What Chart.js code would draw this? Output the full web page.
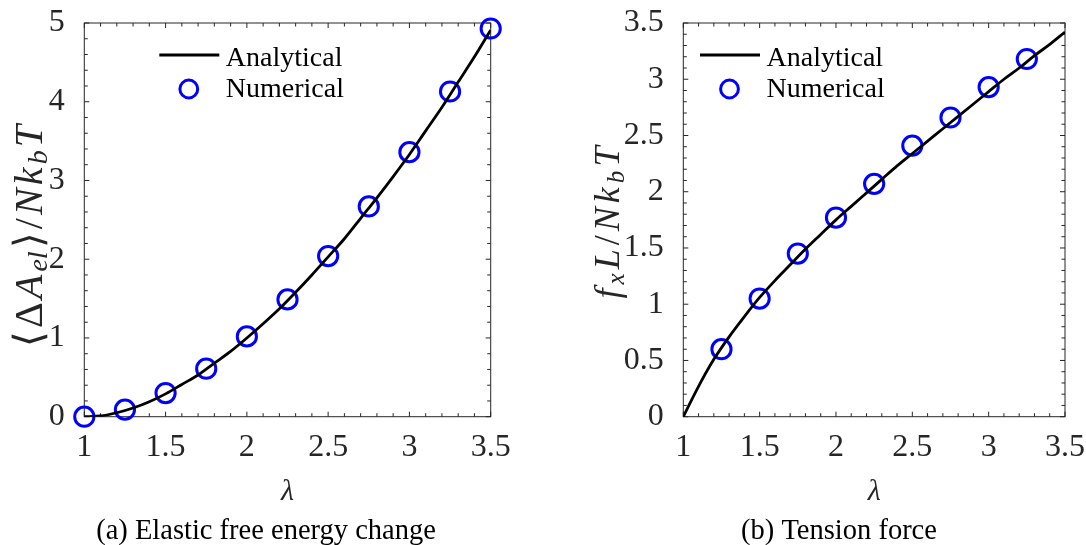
<!DOCTYPE html>
<html>
<head>
<meta charset="utf-8">
<script src="https://cdn.jsdelivr.net/npm/chart.js@4.4.0/dist/chart.umd.min.js"></script>
<style>
  html, body { margin: 0; padding: 0; background: #fff; }
  #wrap { position: relative; width: 1086px; height: 545px; overflow: hidden; }
  .panel { position: absolute; top: 0; height: 545px; }
  #left { left: 0; width: 532px; }
  #right { left: 592px; width: 494px; }
</style>
</head>
<body>
<div id="wrap">
  <div class="panel" id="left"><canvas id="energy" width="532" height="545"></canvas></div>
  <div class="panel" id="right"><canvas id="force" width="494" height="545"></canvas></div>
</div>
<script>
// analytical curves at steps of 0.1 in lambda
const lambdaCurve = [1.0, 1.1, 1.2, 1.3, 1.4, 1.5, 1.6, 1.7, 1.8, 1.9, 2.0, 2.1, 2.2,
  2.3, 2.4, 2.5, 2.6, 2.7, 2.8, 2.9, 3.0, 3.1, 3.2, 3.3, 3.4, 3.5];
const energyCurve = [0, 0.01, 0.05, 0.11, 0.19, 0.29, 0.41, 0.53, 0.68, 0.83, 1.0, 1.18, 1.37,
  1.58, 1.80, 2.03, 2.26, 2.52, 2.78, 3.05, 3.33, 3.63, 3.93, 4.25, 4.57, 4.91];
const forceCurve = [0, 0.27, 0.51, 0.71, 0.89, 1.06, 1.21, 1.35, 1.49, 1.62, 1.75, 1.87, 1.99,
  2.11, 2.23, 2.34, 2.45, 2.56, 2.67, 2.78, 2.89, 3.00, 3.10, 3.21, 3.31, 3.42];

// numerical results (circles)
const lambdaEnergy = [1, 1.25, 1.5, 1.75, 2, 2.25, 2.5, 2.75, 3, 3.25, 3.5];
const energyPts = [0, 0.09, 0.30, 0.61, 1.02, 1.49, 2.04, 2.67, 3.36, 4.13, 4.93];
const lambdaForce = [1.25, 1.5, 1.75, 2, 2.25, 2.5, 2.75, 3, 3.25];
const forcePts = [0.60, 1.05, 1.45, 1.77, 2.07, 2.41, 2.66, 2.93, 3.18];

// tick labels
const lambdaTicks = [1, 1.5, 2, 2.5, 3, 3.5];
const energyTicks = [0, 1, 2, 3, 4, 5];
const forceTicks = [0, 0.5, 1, 1.5, 2, 2.5, 3, 3.5];

const AXIS = "#262626";
const SERIF = "'Liberation Serif', 'Times New Roman', serif";

// matlab style box with inward ticks on all four sides
const framePlugin = {
  id: "frame",
  beforeDatasetsDraw(chart, args, opts) {
    const { ctx, chartArea: a, scales: { x, y } } = chart;
    const marks = (scale, step, majors) => {
      const out = [];
      const n = Math.round((scale.max - scale.min) / step);
      for (let i = 0; i <= n; i++) {
        const v = scale.min + i * step;
        const major = majors.some(m => Math.abs(m - v) < 1e-6);
        out.push([scale.getPixelForValue(v), major ? 5 : 3.5]);
      }
      return out;
    };
    ctx.save();
    ctx.strokeStyle = AXIS;
    ctx.lineWidth = 1;
    ctx.beginPath();
    for (const [px, len] of marks(x, opts.xMinor, opts.xMajor)) {
      ctx.moveTo(px, a.bottom); ctx.lineTo(px, a.bottom - len);
      ctx.moveTo(px, a.top); ctx.lineTo(px, a.top + len);
    }
    for (const [py, len] of marks(y, opts.yMinor, opts.yMajor)) {
      ctx.moveTo(a.left, py); ctx.lineTo(a.left + len, py);
      ctx.moveTo(a.right, py); ctx.lineTo(a.right - len, py);
    }
    ctx.stroke();
    ctx.strokeRect(a.left, a.top, a.right - a.left, a.bottom - a.top);
    ctx.restore();
  }
};

// legend drawn inside the axes
const legendPlugin = {
  id: "boxLegend",
  afterDatasetsDraw(chart, args, opts) {
    const { ctx, chartArea: a } = chart;
    const [line, dots] = chart.data.datasets;
    const x0 = a.left + opts.dx;
    ctx.save();
    ctx.font = `28px ${SERIF}`;
    ctx.fillStyle = "#000";
    ctx.textBaseline = "alphabetic";
    ctx.strokeStyle = line.borderColor;
    ctx.lineWidth = line.borderWidth;
    ctx.beginPath();
    ctx.moveTo(x0, a.top + 32);
    ctx.lineTo(x0 + 60, a.top + 32);
    ctx.stroke();
    ctx.fillText(line.label, x0 + 66.5, a.top + 43);
    ctx.strokeStyle = dots.borderColor;
    ctx.lineWidth = dots.pointBorderWidth;
    ctx.beginPath();
    ctx.arc(x0 + 29.5, a.top + 66, 8.9, 0, Math.PI * 2);
    ctx.stroke();
    ctx.fillText(dots.label, x0 + 66.5, a.top + 73.5);
    ctx.restore();
  }
};

// y title with subscripts, and the subfigure caption
const labelPlugin = {
  id: "labels",
  afterDraw(chart, args, opts) {
    const { ctx } = chart;
    const size = opts.ySize;
    const fontOf = p => `${p.it ? "italic " : ""}${p.sub ? size * 0.7 : size}px ${SERIF}`;
    const natural = opts.yParts.reduce((w, p) => {
      ctx.font = fontOf(p);
      return w + ctx.measureText(p.t).width;
    }, 0);
    const gap = Math.min(4, Math.max(0, (opts.yLength - natural) / (opts.yParts.length - 1)));
    const total = natural + gap * (opts.yParts.length - 1);
    ctx.save();
    ctx.fillStyle = AXIS;
    ctx.textBaseline = "alphabetic";
    ctx.translate(opts.yX, opts.yY);
    ctx.rotate(-Math.PI / 2);
    let cx = -total / 2;
    for (const p of opts.yParts) {
      ctx.font = fontOf(p);
      ctx.fillText(p.t, cx, p.sub ? size * 0.13 : 0);
      cx += ctx.measureText(p.t).width + gap;
    }
    ctx.restore();

    ctx.save();
    ctx.fillStyle = "#000";
    ctx.font = `28.5px ${SERIF}`;
    ctx.textAlign = "center";
    ctx.textBaseline = "alphabetic";
    ctx.fillText(opts.caption, chart.width / 2, 539);
    ctx.restore();
  }
};

// keep the axes box where it is in the figure, no label overflow padding
const noOverflow = s => {
  s.paddingTop = 0;
  s.paddingBottom = 0;
  s.paddingLeft = 0;
  s.paddingRight = 0;
};

function makeChart(id, cfg) {
  const tickFont = { family: SERIF, size: 32, lineHeight: 1.2 };
  return new Chart(document.getElementById(id), {
    type: "line",
    data: {
      datasets: [
        {
          label: "Analytical",
          data: lambdaCurve.map((x, i) => ({ x, y: cfg.curve[i] })),
          borderColor: "#000",
          borderWidth: 2.8,
          pointRadius: 0,
          cubicInterpolationMode: "monotone",
          fill: false,
          order: 0,
        },
        {
          label: "Numerical",
          data: cfg.px.map((x, i) => ({ x, y: cfg.py[i] })),
          showLine: false,
          borderColor: "#0000ff",
          backgroundColor: "rgba(0,0,0,0)",
          pointBorderColor: "#0000ff",
          pointBackgroundColor: "rgba(0,0,0,0)",
          pointRadius: 9.6,
          pointBorderWidth: 3,
          clip: false,
          order: 1,
        },
      ],
    },
    options: {
      responsive: false,
      animation: false,
      events: [],
      layout: {
        autoPadding: false,
        padding: { left: 0, right: cfg.padRight, top: 23, bottom: 0 },
      },
      scales: {
        x: {
          type: "linear",
          min: 1,
          max: 3.5,
          grid: { display: false },
          border: { display: false },
          afterBuildTicks: s => { s.ticks = lambdaTicks.map(value => ({ value })); },
          afterFit: s => { s.height = 128.3; noOverflow(s); },
          ticks: { color: AXIS, font: tickFont, padding: 4, maxRotation: 0, autoSkip: false, callback: v => String(v) },
          title: {
            display: true,
            text: "λ",
            color: AXIS,
            font: { family: SERIF, size: 30, style: "italic", lineHeight: 1.2 },
            padding: { top: 0, bottom: 35 },
          },
        },
        y: {
          type: "linear",
          min: 0,
          max: cfg.yMax,
          grid: { display: false },
          border: { display: false },
          afterBuildTicks: s => { s.ticks = cfg.yTicks.map(value => ({ value })); },
          afterFit: s => { s.width = cfg.yWidth; noOverflow(s); },
          ticks: { color: AXIS, font: tickFont, padding: 11.5, autoSkip: false, callback: v => String(v) },
        },
      },
      plugins: {
        legend: { display: false },
        tooltip: { enabled: false },
        frame: { xMinor: 0.1, xMajor: lambdaTicks, yMinor: cfg.yMinor, yMajor: cfg.yTicks },
        boxLegend: { dx: cfg.legendDx },
        labels: cfg.labels,
      },
    },
    plugins: [framePlugin, legendPlugin, labelPlugin],
  });
}

makeChart("energy", {
  curve: energyCurve,
  px: lambdaEnergy,
  py: energyPts,
  yMax: 5,
  yTicks: energyTicks,
  yMinor: 0.2,
  yWidth: 84.3,
  padRight: 41.3,
  legendDx: 75,
  labels: {
    caption: "(a) Elastic free energy change",
    yX: 42,
    yY: 236,
    ySize: 40,
    yLength: 222,
    yParts: [
      { t: "⟨" }, { t: "Δ" }, { t: "A", it: true }, { t: "el", it: true, sub: true },
      { t: "⟩" }, { t: "/" }, { t: "N", it: true }, { t: "k", it: true },
      { t: "b", it: true, sub: true }, { t: "T", it: true },
    ],
  },
});

makeChart("force", {
  curve: forceCurve,
  px: lambdaForce,
  py: forcePts,
  yMax: 3.5,
  yTicks: forceTicks,
  yMinor: 0.1,
  yWidth: 91.3,
  padRight: 21,
  legendDx: 16.7,
  labels: {
    caption: "(b) Tension force",
    yX: 27,
    yY: 222.5,
    ySize: 36,
    yLength: 153,
    yParts: [
      { t: "f", it: true }, { t: "x", it: true, sub: true }, { t: "L", it: true },
      { t: "/" }, { t: "N", it: true }, { t: "k", it: true },
      { t: "b", it: true, sub: true }, { t: "T", it: true },
    ],
  },
});
</script>
</body>
</html>
